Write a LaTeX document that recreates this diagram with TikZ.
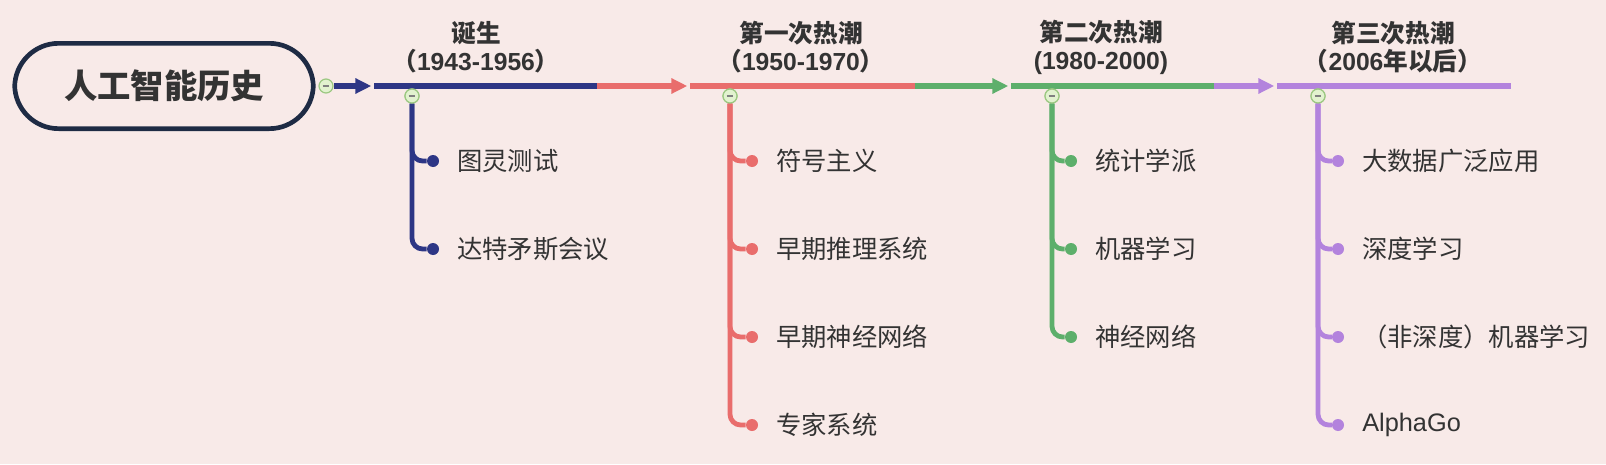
\documentclass[tikz,border=0pt]{standalone}
\usepackage{fontspec}
\setmainfont{Noto Sans CJK SC}
\newfontfamily\latinfont{Liberation Sans}
\usetikzlibrary{arrows.meta}

\definecolor{bgpink}{HTML}{F8EAE8}
\definecolor{navy}{HTML}{2D3685}
\definecolor{coral}{HTML}{E96D6C}
\definecolor{leafgreen}{HTML}{5DAF6B}
\definecolor{lilac}{HTML}{B383DD}
\definecolor{rootline}{HTML}{1E2B44}
\definecolor{textgray}{HTML}{333333}
\definecolor{foldline}{HTML}{9CC882}
\definecolor{foldfill}{HTML}{E2F2CF}

\tikzset{
  rootbox/.style={draw=rootline, line width=3.5pt, rounded corners=33pt,
    minimum width=224pt, minimum height=64pt, text=textgray,
    font=\fontsize{25}{28}\selectfont\bfseries},
  mainline/.style={line width=3.8pt},
  tip/.style={-{Triangle[length=12pt,width=11pt]}, shorten >=2pt},
  branch/.style={line width=3.6pt, rounded corners=8pt},
  fold/.style={circle, draw=foldline, fill=foldfill, line width=0.9pt,
    minimum size=10.5pt, inner sep=0pt,
    path picture={\draw[gray, line width=0.8pt]
      ([xshift=-2.6pt]path picture bounding box.center) --
      ([xshift=2.6pt]path picture bounding box.center);}},
  dot/.style={circle, minimum size=9pt, inner sep=0pt},
  title/.style={align=center, text=textgray, inner sep=0pt,
    font=\fontsize{18.5}{21}\selectfont\bfseries},
  leaf/.style={anchor=west, inner sep=0pt, text=textgray,
    font=\fontsize{19}{22}\selectfont}
}

\begin{document}
\begin{tikzpicture}[x=0.75pt,y=-0.75pt]
\fill[bgpink] (0,0) rectangle (1606,464);
\useasboundingbox (0,0) rectangle (1606,464);

\node[rootbox] (root) at (164,86) {人工智能历史};

% topic lines
\coordinate (t1s) at (374,86); \coordinate (t1e) at (597,86);
\coordinate (t2s) at (690,86); \coordinate (t2e) at (915,86);
\coordinate (t3s) at (1011,86); \coordinate (t3e) at (1214,86);
\coordinate (t4s) at (1277,86); \coordinate (t4e) at (1511,86);

\node[title] (t1) at (476,47) {诞生\\（{\latinfont 1943-1956}）};
\node[title] (t2) at (801,47) {第一次热潮\\（{\latinfont 1950-1970}）};
\node[title] (t3) at (1101,47) {第二次热潮\\{\latinfont (1980-2000)}};
\node[title] (t4) at (1393,47) {第三次热潮\\（{\latinfont 2006}年以后）};

\draw[mainline, navy] (t1s) -- (t1e);
\draw[mainline, coral] (t2s) -- (t2e);
\draw[mainline, leafgreen] (t3s) -- (t3e);
\draw[mainline, lilac] (t4s) -- (t4e);

\node[fold] (f0) at (326,86) {};
\draw[mainline, navy, tip] (f0) -- (t1s);
\draw[mainline, coral, tip] (t1e) -- (t2s);
\draw[mainline, leafgreen, tip] (t2e) -- (t3s);
\draw[mainline, lilac, tip] (t3e) -- (t4s);

% branches
\node[fold] (f1) at (412,96) {};
\foreach \n/\txt in {1/图灵测试, 2/达特矛斯会议}{
  \node[dot, fill=navy] (d1\n) at (433,{73+88*\n}) {};
  \node[leaf] (l1\n) at (457,{73+88*\n}) {\txt};
  \draw[branch, navy] (f1) |- (d1\n);
}
\node[fold] at (f1) {};

\node[fold] (f2) at (730,96) {};
\foreach \n/\txt in {1/符号主义, 2/早期推理系统, 3/早期神经网络, 4/专家系统}{
  \node[dot, fill=coral] (d2\n) at (752,{73+88*\n}) {};
  \node[leaf] (l2\n) at (776,{73+88*\n}) {\txt};
  \draw[branch, coral] (f2) |- (d2\n);
}
\node[fold] at (f2) {};

\node[fold] (f3) at (1052,96) {};
\foreach \n/\txt in {1/统计学派, 2/机器学习, 3/神经网络}{
  \node[dot, fill=leafgreen] (d3\n) at (1071,{73+88*\n}) {};
  \node[leaf] (l3\n) at (1095,{73+88*\n}) {\txt};
  \draw[branch, leafgreen] (f3) |- (d3\n);
}
\node[fold] at (f3) {};

\node[fold] (f4) at (1318,96) {};
\foreach \n/\txt in {1/大数据广泛应用, 2/深度学习, 3/（非深度）机器学习, 4/{\latinfont AlphaGo}}{
  \node[dot, fill=lilac] (d4\n) at (1338,{73+88*\n}) {};
  \node[leaf] (l4\n) at (1362,{73+88*\n}) {\txt};
  \draw[branch, lilac] (f4) |- (d4\n);
}
\node[fold] at (f4) {};
\end{tikzpicture}
\end{document}
